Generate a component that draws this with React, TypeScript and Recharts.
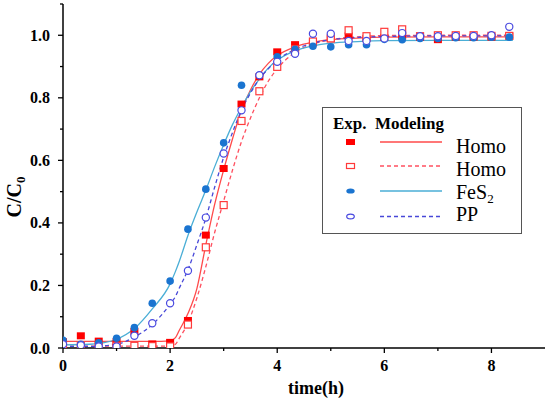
import React from 'react';
import { ComposedChart, Line, Scatter, XAxis, YAxis, Legend } from 'recharts';

// ---- data ----
const expTime = [0, 0.333, 0.667, 1, 1.333, 1.667, 2, 2.333, 2.667, 3, 3.333, 3.667, 4, 4.333, 4.667, 5, 5.333, 5.667, 6, 6.333, 6.667, 7, 7.333, 7.667, 8, 8.333];
const homoFilledExp = [0.02, 0.039, 0.022, 0.02, 0.053, 0.013, 0.018, 0.088, 0.361, 0.574, 0.78, 0.867, 0.947, 0.97, 0.976, 0.989, 0.998, 0.99, 0.993, 0.997, 0.993, 0.986, 0.994, 0.994, 0.994, 0.998];
const homoOpenExp = [0.008, 0.007, 0.007, 0.007, 0.007, 0.006, 0.005, 0.075, 0.322, 0.457, 0.726, 0.821, 0.899, 0.955, 0.98, 0.99, 1.016, 0.997, 1.011, 1.019, 0.997, 1.0, 1.0, 1.0, 0.998, 0.998];
const fes2Exp = [0.025, 0.012, 0.017, 0.031, 0.065, 0.143, 0.214, 0.38, 0.508, 0.656, 0.84, 0.872, 0.931, 0.955, 0.965, 0.963, 0.97, 0.97, 0.987, 0.986, 0.99, 0.99, 0.992, 0.992, 0.994, 0.994];
const ppExp = [0.012, 0.009, 0.005, 0.005, 0.039, 0.079, 0.143, 0.247, 0.417, 0.622, 0.76, 0.872, 0.915, 0.941, 1.005, 1.005, 0.982, 0.982, 0.99, 1.007, 0.997, 0.997, 0.998, 0.998, 1.0, 1.027];

const modelTime = [0, 0.5, 1, 1.333, 1.667, 2, 2.1, 2.167, 2.333, 2.5, 2.667, 2.833, 3, 3.167, 3.333, 3.5, 3.667, 3.833, 4, 4.333, 4.667, 5, 5.5, 6, 7, 8.4];
const homoFilledModel = [0.021, 0.021, 0.021, 0.021, 0.021, 0.023, 0.033, 0.055, 0.11, 0.19, 0.33, 0.46, 0.57, 0.67, 0.76, 0.825, 0.875, 0.91, 0.935, 0.963, 0.978, 0.986, 0.991, 0.994, 0.995, 0.995];
const homoOpenModel = [0.006, 0.006, 0.006, 0.006, 0.006, 0.006, 0.012, 0.03, 0.08, 0.16, 0.26, 0.37, 0.47, 0.57, 0.66, 0.735, 0.8, 0.853, 0.893, 0.945, 0.972, 0.986, 0.995, 0.999, 1.0, 1.0];
const fes2Model = [0.01, 0.012, 0.028, 0.062, 0.125, 0.205, 0.245, 0.275, 0.36, 0.435, 0.505, 0.58, 0.65, 0.715, 0.77, 0.82, 0.86, 0.895, 0.92, 0.95, 0.966, 0.975, 0.98, 0.983, 0.984, 0.984];
const ppModel = [0.005, 0.005, 0.012, 0.035, 0.075, 0.14, 0.165, 0.19, 0.25, 0.33, 0.415, 0.515, 0.61, 0.69, 0.76, 0.815, 0.86, 0.893, 0.92, 0.955, 0.975, 0.986, 0.993, 0.996, 0.998, 0.998];

const xTicks = [0, 1, 2, 3, 4, 5, 6, 7, 8];
const yTicks = [0, 0.1, 0.2, 0.3, 0.4, 0.5, 0.6, 0.7, 0.8, 0.9, 1.0, 1.1];
const legendNames = ['Homo', 'Homo', 'FeS', 'PP'];
const legendSubs = ['', '', '2', ''];
const headerExp = 'Exp.';
const headerModel = 'Modeling';
const xTitle = 'time(h)';

// ---- styles ----
const FONT = 'Liberation Serif';
const C = {
  redMark: '#ff0000',
  redLine: '#ff4a4a',
  redOpen: '#ff3a3a',
  redDash: '#ff5060',
  blueMark: '#1a74d0',
  cyanLine: '#4aaed6',
  ppMark: '#4a4ae0',
  ppLine: '#4848d8',
};

const pts = (xs: number[], ys: number[]) => xs.map((t, i) => ({ t, v: ys[i] }));

const FilledSquare = (p: any) => <rect x={p.cx - 4} y={p.cy - 3.5} width={8} height={7} fill={C.redMark} />;
const OpenSquare = (p: any) => <rect x={p.cx - 3.5} y={p.cy - 3.5} width={7} height={7} fill="#fff" stroke={C.redOpen} strokeWidth={1.2} />;
const FilledCircle = (p: any) => <circle cx={p.cx} cy={p.cy} r={3.8} fill={C.blueMark} />;
const OpenCircle = (p: any) => <circle cx={p.cx} cy={p.cy} r={3.6} fill="#fff" stroke={C.ppMark} strokeWidth={1.2} />;

const XTick = (p: any) => {
  const v = p.payload.value;
  const major = v % 2 === 0;
  return (
    <g>
      <line x1={p.x} x2={p.x} y1={p.y} y2={p.y + (major ? 5 : 3)} stroke="#000" strokeWidth={1.3} />
      {major && (
        <text x={p.x} y={p.y + 23} textAnchor="middle" fontFamily={FONT} fontWeight="bold" fontSize={16} fill="#000">
          {v}
        </text>
      )}
    </g>
  );
};

const YTick = (p: any) => {
  const v = p.payload.value;
  const idx = Math.round(v * 10);
  const major = idx % 2 === 0;
  return (
    <g>
      <line x1={p.x} x2={p.x - (major ? 5 : 3)} y1={p.y} y2={p.y} stroke="#000" strokeWidth={1.3} />
      {major && (
        <text x={p.x - 13} y={p.y + 5.5} textAnchor="end" fontFamily={FONT} fontWeight="bold" fontSize={16} fill="#000">
          {v.toFixed(1)}
        </text>
      )}
    </g>
  );
};

const LegendBox = () => {
  const rowY = [34, 58, 83, 108.5];
  const textY = [44.5, 68, 90.5, 112.5];
  const lineColors = [C.redLine, C.redDash, C.cyanLine, C.ppLine];
  const dashes = [undefined, '4 3', undefined, '4 3'];
  const markers = [
    (y: number) => <rect x={23} y={y - 3} width={9} height={6} fill={C.redMark} />,
    (y: number) => <rect x={23.5} y={y - 2.5} width={8} height={5} fill="#fff" stroke={C.redOpen} strokeWidth={1.2} />,
    (y: number) => <ellipse cx={27.5} cy={y} rx={4.2} ry={2.6} fill={C.blueMark} />,
    (y: number) => <ellipse cx={27.5} cy={y} rx={3.8} ry={2.4} fill="#fff" stroke={C.ppMark} strokeWidth={1.2} />,
  ];
  return (
    <div style={{ width: 200, height: 127, border: '1px solid #555', background: '#fff', boxSizing: 'border-box' }}>
      <svg width={198} height={125} style={{ display: 'block' }}>
        <text x={10} y={21} fontFamily={FONT} fontWeight="bold" fontSize={17} fill="#000">{headerExp}</text>
        <text x={52} y={21} fontFamily={FONT} fontWeight="bold" fontSize={17} fill="#000">{headerModel}</text>
        {legendNames.map((n, i) => (
          <g key={i}>
            {markers[i](rowY[i])}
            <line x1={57} x2={119} y1={rowY[i]} y2={rowY[i]} stroke={lineColors[i]} strokeWidth={1.4} strokeDasharray={dashes[i]} />
            <text x={133} y={textY[i]} fontFamily={FONT} fontSize={20} fill="#000">
              {n}
              {legendSubs[i] && <tspan fontSize={13} dy={4}>{legendSubs[i]}</tspan>}
            </text>
          </g>
        ))}
      </svg>
    </div>
  );
};

export default function App() {
  return (
    <div style={{ position: 'absolute', left: 0, top: 0, background: '#fff', fontFamily: FONT }}>
      <ComposedChart width={550} height={402} margin={{ top: 4, right: 5, bottom: 0, left: 0 }}>
        <XAxis
          type="number"
          dataKey="t"
          domain={[0, 9]}
          ticks={xTicks}
          allowDataOverflow
          height={54}
          tickSize={0}
          tickMargin={0}
          tickLine={false}
          axisLine={{ stroke: '#000', strokeWidth: 1.5 }}
          tick={<XTick />}
          interval={0}
          label={() => (
            <text x={316} y={394} textAnchor="middle" fontFamily={FONT} fontWeight="bold" fontSize={18} fill="#000">
              {xTitle}
            </text>
          )}
        />
        <YAxis
          type="number"
          dataKey="v"
          domain={[0, 1.1]}
          ticks={yTicks}
          allowDataOverflow
          width={63}
          tickSize={0}
          tickMargin={0}
          tickLine={false}
          axisLine={{ stroke: '#000', strokeWidth: 1.5 }}
          tick={<YTick />}
          interval={0}
          label={() => (
            <text x={21} y={197} transform="rotate(-90, 21, 197)" textAnchor="middle" fontFamily={FONT} fontWeight="bold" fontSize={20} fill="#000">
              C/C<tspan fontSize={13} dy={4}>0</tspan>
            </text>
          )}
        />
        <Legend
          layout="vertical"
          align="center"
          verticalAlign="middle"
          content={() => <LegendBox />}
          wrapperStyle={{ left: 322, top: 107, width: 200, height: 127 }}
        />
        <Line data={pts(modelTime, homoFilledModel)} dataKey="v" type="monotone" stroke={C.redLine} strokeWidth={1.3} dot={false} isAnimationActive={false} />
        <Line data={pts(modelTime, homoOpenModel)} dataKey="v" type="monotone" stroke={C.redDash} strokeWidth={1.3} strokeDasharray="4 3" dot={false} isAnimationActive={false} />
        <Line data={pts(modelTime, fes2Model)} dataKey="v" type="monotone" stroke={C.cyanLine} strokeWidth={1.3} dot={false} isAnimationActive={false} />
        <Line data={pts(modelTime, ppModel)} dataKey="v" type="monotone" stroke={C.ppLine} strokeWidth={1.3} strokeDasharray="4 3" dot={false} isAnimationActive={false} />
        <Scatter data={pts(expTime, homoFilledExp)} dataKey="v" shape={FilledSquare} isAnimationActive={false} />
        <Scatter data={pts(expTime, homoOpenExp)} dataKey="v" shape={OpenSquare} isAnimationActive={false} />
        <Scatter data={pts(expTime, fes2Exp)} dataKey="v" shape={FilledCircle} isAnimationActive={false} />
        <Scatter data={pts(expTime, ppExp)} dataKey="v" shape={OpenCircle} isAnimationActive={false} />
      </ComposedChart>
    </div>
  );
}
